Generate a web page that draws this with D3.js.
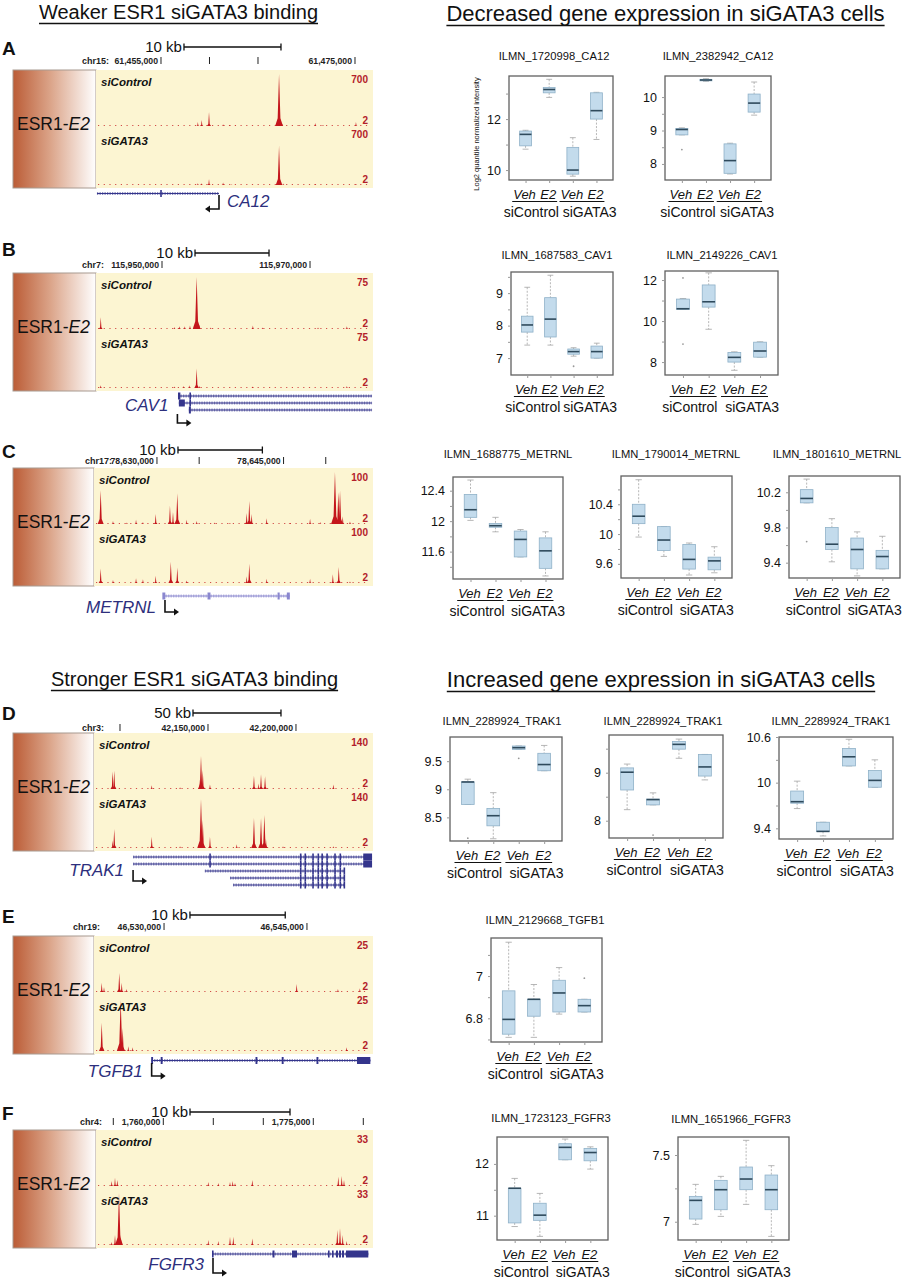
<!DOCTYPE html>
<html>
<head>
<meta charset="utf-8">
<script src="https://cdn.jsdelivr.net/npm/d3@7"></script>
<style>
  body { margin: 0; background: #fff; }
  svg { display: block; font-family: "Liberation Sans", Arial, sans-serif; }
</style>
</head>
<body>
<div id="fig"></div>
<script>
// ---------------- data ----------------
const sectionTitles = ["Weaker ESR1 siGATA3 binding", "Decreased gene expression in siGATA3 cells",
  "Stronger ESR1 siGATA3 binding", "Increased gene expression in siGATA3 cells"];

const panelLetters = ["A", "B", "C", "D", "E", "F"];
const chroms = ["chr15:", "chr7:", "chr17:", "chr3:", "chr19:", "chr4:"];
const regionStarts = [61448300, 115941080, 78622540, 42085230, 46522650, 1753270]; // bp at left edge
const regionLengths = [28.35, 37.16, 32.82, 157.4, 29.07, 27.5];                   // kb shown
const chrTicks = [
  [61455000, 61460000, 61465000, 61475000],
  [115950000, 115970000],
  [78630000, 78635000, 78645000, 78650000],
  [42100000, 42150000, 42200000],
  [46530000, 46545000],
  [1755000, 1760000, 1765000, 1770000, 1775000, 1780000]
];
const chrTickLabels = [
  [61455000, 61475000], [115950000, 115970000], [78630000, 78645000],
  [42150000, 42200000], [46530000, 46545000], [1760000, 1775000]
];
const scaleBarStart = [61457370, 115954460, 78632490, 42141480, 46532720, 1762670];
const scaleBarKb = [10, 10, 10, 50, 10, 10];
const trackMax = [700, 75, 100, 140, 25, 33];
const trackNames = ["siControl", "siGATA3"];

// peaks: [kb from left edge, signal]
const peaksA_ctrl = [[10.5,55],[10.9,80],[11.65,190],[13.1,25],[13.8,12],[14.4,10],[18.87,700],[19.2,30],[21.0,12],[22.6,40],[23.4,15],[26.8,55]];
const peaksA_gata = [[10.5,25],[10.9,25],[11.65,80],[13.1,35],[14.0,10],[18.87,530],[19.3,20],[22.6,14],[26.8,15]];
const peaksB_ctrl = [[0.64,17],[10.6,3],[11.3,4],[12.0,4],[12.7,5],[13.6,75],[14.0,6],[15.5,2],[21.2,5],[22.5,2],[30,2],[33.9,4]];
const peaksB_gata = [[0.64,4],[10.6,2],[11.8,3],[12.6,4],[13.6,28],[14.0,3],[21.2,2],[33.9,3]];
const peaksC_ctrl = [[0.79,65],[2.25,6],[3.9,3],[4.98,8],[5.8,4],[7.31,19],[9.0,35],[9.36,23],[9.87,59],[10.98,8],[12.17,6],[14.3,3],[16.1,2],[18.09,21],[18.4,44],[18.68,19],[20.46,11],[23.2,2],[25.6,10],[26.8,4],[28.55,100],[28.95,61],[29.15,64],[29.47,15],[30.33,5]];
const peaksC_gata = [[0.79,28],[2.25,6],[4.98,9],[5.8,7],[7.31,14],[9.1,41],[9.87,30],[10.98,5],[18.09,13],[18.4,37],[20.46,8],[25.6,8],[28.3,17],[29.0,31],[30.33,3]];
const peaksD_ctrl = [[10.6,47],[11.5,49],[32.8,10],[48.9,5],[60.2,25],[60.8,89],[61.8,51],[65.9,12],[90.9,36],[93.4,15],[94.9,40],[97.2,34],[136,12]];
const peaksD_gata = [[10.6,20],[11.5,51],[32.8,30],[48.9,5],[60.8,131],[61.8,76],[65.9,30],[81.1,10],[90.9,81],[94.9,81],[96.8,89],[97.7,25],[107.4,5],[136,5]];
const peaksE_ctrl = [[0.81,4.5],[1.05,2.3],[2.65,9.1],[2.91,4.5],[3.43,1.4],[21.27,3.8],[25.6,1.4],[27.9,1.8]];
const peaksE_gata = [[0.81,13.6],[2.8,24.5],[3.01,11],[3.6,2.3],[4.06,1.8],[26.5,1.8]];
const peaksF_ctrl = [[1.57,3.2],[1.9,5.3],[2.13,3.8],[11.23,2.5],[12.23,1.9],[13.4,2.5],[13.67,3.2],[13.9,1.9],[15.63,3.8],[24.23,5.9],[24.57,6.3],[24.8,3.8]];
const peaksF_gata = [[1.57,1.9],[1.9,6.3],[2.3,33],[2.47,6.3],[11.23,3.2],[12.23,2.5],[13.4,5.3],[13.73,5.3],[15.63,4.2],[24.13,9.5],[24.4,10.6],[24.67,6.3],[25.07,2.5]];
const panelPeaks = [[peaksA_ctrl, peaksA_gata], [peaksB_ctrl, peaksB_gata], [peaksC_ctrl, peaksC_gata],
  [peaksD_ctrl, peaksD_gata], [peaksE_ctrl, peaksE_gata], [peaksF_ctrl, peaksF_gata]];

// genes: transcripts {s, e, x: exons} in kb from left edge
const geneNames = ["CA12", "CAV1", "METRNL", "TRAK1", "TGFB1", "FGFR3"];
const geneA = [{ s: 0.1, e: 12.68, x: [[6.62, 6.78]] }];
const geneB = [
  { s: 11.08, e: 37.3, x: [[11.08, 11.4], [12.62, 12.82]] },
  { s: 11.2, e: 37.3, x: [[11.2, 12.0], [12.62, 12.82]] },
  { s: 12.55, e: 37.3, x: [[12.55, 12.82]] }
];
const geneC = [{ s: 8.18, e: 23.2, x: [[8.1, 8.45], [13.45, 13.8], [21.75, 22.0], [22.85, 23.2]] }];
const trak1Exons = [[117, 117.7], [119.6, 120.3], [124, 124.8], [127, 127.7], [129.2, 129.9], [132, 132.8], [136.5, 137.2], [139.5, 140.2]];
const geneD = [
  { s: 22.2, e: 158, x: [[65.5, 66.2]].concat(trak1Exons, [[153, 158]]) },
  { s: 22.2, e: 158, x: [[65.5, 66.2]].concat(trak1Exons, [[153, 158]]) },
  { s: 63, e: 142.6, x: trak1Exons.concat([[141.8, 142.6]]) },
  { s: 77.3, e: 142.6, x: trak1Exons.concat([[141.8, 142.6]]) },
  { s: 79, e: 142.6, x: trak1Exons.concat([[141.8, 142.6]]) }
];
const geneE = [{ s: 6.05, e: 29, x: [[6.0, 6.2], [7.0, 7.2], [16.95, 17.15], [19.7, 19.9], [23.35, 23.55], [27.6, 29]] }];
const geneF = [{ s: 11.63, e: 27.23, x: [[11.6, 11.75], [17.65, 17.85], [19.6, 20.1], [23.2, 23.35], [23.6, 23.75], [24.0, 24.2], [24.3, 24.5], [24.6, 24.8], [25.0, 27.23]] }];
const panelGenes = [geneA, geneB, geneC, geneD, geneE, geneF];
const tss = [[12.68, -1], [11.0, 1], [8.41, 1], [22.2, 1], [6.05, 1], [11.7, 1]]; // [kb, direction]

// expression boxplots: [lowWhisker, q1, median, q3, highWhisker, outliers] for Veh/E2 x siControl/siGATA3
const conditions = ["Veh", "E2", "Veh", "E2"];
const probeTitles = ["ILMN_1720998_CA12", "ILMN_2382942_CA12", "ILMN_1687583_CAV1", "ILMN_2149226_CAV1",
  "ILMN_1688775_METRNL", "ILMN_1790014_METRNL", "ILMN_1801610_METRNL",
  "ILMN_2289924_TRAK1", "ILMN_2289924_TRAK1", "ILMN_2289924_TRAK1",
  "ILMN_2129668_TGFB1", "ILMN_1723123_FGFR3", "ILMN_1651966_FGFR3"];
const ca12_1720998 = [[10.82,10.95,11.40,11.53,11.56,[]],[12.85,13.03,13.16,13.24,13.56,[]],[9.76,9.84,10.0,10.89,11.27,[]],[11.2,12.0,12.33,13.03,13.05,[]]];
const ca12_2382942 = [[8.87,8.87,9.03,9.06,9.08,[8.43]],[10.47,10.49,10.51,10.53,10.55,[]],[7.7,7.72,8.1,8.6,8.62,[]],[9.46,9.55,9.82,10.09,10.45,[]]];
const cav1_1687583 = [[7.4,7.8,8.02,8.29,9.18,[]],[7.4,7.65,8.2,8.86,9.55,[]],[7.06,7.12,7.2,7.28,7.32,[6.75]],[7.0,7.0,7.2,7.37,7.46,[]]];
const cav1_2149226 = [[10.57,10.57,10.6,11.07,11.1,[12.1,8.88]],[9.6,10.68,10.94,11.76,12.35,[]],[7.6,8.0,8.23,8.47,8.5,[]],[8.24,8.24,8.54,8.97,8.99,[]]];
const metrnl_1688775 = [[12.01,12.05,12.15,12.35,12.54,[]],[11.86,11.92,11.94,11.97,12.05,[]],[11.53,11.53,11.76,11.87,11.89,[]],[11.28,11.38,11.61,11.78,11.86,[]]];
const metrnl_1790014 = [[9.96,10.14,10.24,10.40,10.73,[]],[9.70,9.78,9.92,10.10,10.10,[]],[9.45,9.53,9.66,9.86,9.88,[]],[9.48,9.52,9.64,9.69,9.83,[]]];
const metrnl_1801610 = [[10.08,10.08,10.13,10.23,10.35,[9.64]],[9.41,9.55,9.61,9.80,9.90,[]],[9.25,9.33,9.55,9.68,9.75,[]],[9.33,9.33,9.47,9.54,9.70,[]]];
const trak1_a = [[8.73,8.73,9.13,9.13,9.18,[8.13]],[8.12,8.35,8.53,8.66,8.94,[]],[9.71,9.71,9.74,9.77,9.77,[9.55]],[9.33,9.33,9.44,9.64,9.78,[]]];
const trak1_b = [[8.23,8.64,9.01,9.10,9.18,[]],[8.33,8.33,8.44,8.45,8.58,[7.70]],[9.30,9.49,9.59,9.65,9.70,[]],[8.85,8.93,9.12,9.38,9.38,[]]];
const trak1_c = [[9.66,9.73,9.75,9.89,10.02,[]],[9.30,9.36,9.36,9.48,9.48,[]],[10.22,10.22,10.34,10.45,10.57,[]],[9.94,9.94,10.03,10.16,10.30,[]]];
const tgfb1_2129668 = [[6.71,6.725,6.795,6.93,7.16,[]],[6.71,6.81,6.89,6.89,6.96,[]],[6.82,6.83,6.92,6.98,7.04,[]],[6.83,6.83,6.86,6.89,6.89,[6.99]]];
const fgfr3_1723123 = [[10.79,10.86,11.53,11.53,11.72,[]],[10.60,10.91,11.01,11.24,11.43,[]],[12.08,12.08,12.32,12.39,12.48,[]],[11.90,12.06,12.22,12.30,12.33,[]]];
const fgfr3_1651966 = [[6.98,7.02,7.16,7.19,7.28,[]],[7.04,7.09,7.24,7.31,7.34,[]],[7.13,7.24,7.32,7.41,7.61,[]],[6.89,7.09,7.24,7.35,7.42,[]]];
const probeStats = [ca12_1720998, ca12_2382942, cav1_1687583, cav1_2149226, metrnl_1688775, metrnl_1790014,
  metrnl_1801610, trak1_a, trak1_b, trak1_c, tgfb1_2129668, fgfr3_1723123, fgfr3_1651966];
const plotTicks = [[10,11,12,13],[8,8.5,9,9.5,10],[7,7.5,8,8.5,9,9.5],[8,9,10,11,12],[11.4,11.6,11.8,12,12.2,12.4],
  [9.6,9.8,10,10.2,10.4,10.6],[9.4,9.6,9.8,10,10.2],[8.5,9,9.5],[8,8.5,9,9.5],[9.4,9.7,10,10.3,10.6],
  [6.7,6.8,6.9,7,7.1],[11,11.5,12],[7,7.25,7.5]];
const plotTickLabels = [[10,12],[8,9,10],[7,8,9],[8,10,12],[11.6,12,12.4],[9.6,10,10.4],[9.4,9.8,10.2],
  [8.5,9,9.5],[8,9],[9.4,10,10.6],[6.8,7],[11,12],[7,7.5]];

// ---------------- layout ----------------
const W = 902, H = 1280;
const trackTop = [70, 273, 468, 733, 936, 1130];
const trackX0 = [96, 96, 94, 94, 94, 96];
const trackX1 = 371;
const letterY = [55, 256, 458, 720, 923, 1120];
const barY = [47, 253, 450, 713, 915, 1112];
const chrY = [64, 268, 464, 731, 930, 1125];
const chrX = [82, 82, 85, 82, 73, 80];
const geneY = [193.5, 396, 596, 857, 1060.5, 1254];
const geneLabelY = [207, 411, 613, 876, 1077, 1270];
const arrowY = [[195, 209], [414, 423], [600, 612], [870, 881], [1063, 1076], [1258, 1273]];
const plotFrames = [[509,613,76,180],[665,771,76,180],[511,613,272,375],[665,778,271,375],
  [453,563,477,579],[621,732,476,578],[789,900,476,578],
  [450,562,737,841],[609,723,735,838],[779,893,737,839],
  [491,602,938,1042],[497,608,1137,1240],[678,789,1137,1240]];
const plotYDomains = [[9.61,13.69],[7.52,10.63],[6.48,9.65],[7.37,12.44],[11.24,12.58],[9.41,10.78],[9.226,10.385],
  [8.08,9.93],[7.64,9.785],[9.26,10.6],[6.688,7.18],[10.53,12.52],[6.863,7.635]];
const plotTitleX = [554,718,557,722,508,676,837,502,663,831,545,551,731];
const plotTitleY = [60,60,259,259,458,458,458,725,725,725,924,1122,1123];
const headerPos = [[178.5, 19], [665.5, 21], [194.5, 686], [661, 687]];
const headerSize = [20, 22, 20, 22];

const RED = "#c4161c", NAVY = "#2d2f7d";

const svg = d3.select("#fig").append("svg").attr("width", W).attr("height", H);
svg.append("rect").attr("width", W).attr("height", H).attr("fill", "#fff");

const grad = svg.append("defs").append("linearGradient").attr("id", "esrGrad")
  .attr("x1", "0%").attr("x2", "100%").attr("y1", "0%").attr("y2", "0%");
grad.append("stop").attr("offset", "0%").attr("stop-color", "#bb5c36");
grad.append("stop").attr("offset", "45%").attr("stop-color", "#dba489");
grad.append("stop").attr("offset", "100%").attr("stop-color", "#ffffff");

// section headers
sectionTitles.forEach((t, i) => {
  const txt = svg.append("text").attr("x", headerPos[i][0]).attr("y", headerPos[i][1])
    .attr("text-anchor", "middle").attr("font-size", headerSize[i]).attr("fill", "#111").text(t);
  const w = txt.node().getComputedTextLength();
  svg.append("line").attr("x1", headerPos[i][0] - w / 2).attr("x2", headerPos[i][0] + w / 2)
    .attr("y1", headerPos[i][1] + 4.5).attr("y2", headerPos[i][1] + 4.5)
    .attr("stroke", "#111").attr("stroke-width", 1.3);
});

// ---------------- genome track panels ----------------
const peakLine = d3.line().x(d => d[0]).y(d => d[1]);

function drawTrackPanel(i) {
  const g = svg.append("g");
  const top = trackTop[i], x0 = trackX0[i];
  const x = d3.scaleLinear().domain([0, regionLengths[i]]).range([x0, trackX1]);
  const bpX = bp => x((bp - regionStarts[i]) / 1000);

  g.append("text").attr("x", 2).attr("y", letterY[i]).attr("font-size", 19).attr("font-weight", "bold")
    .attr("fill", "#111").text(panelLetters[i]);

  // scale bar
  const sb0 = bpX(scaleBarStart[i]), sb1 = bpX(scaleBarStart[i] + scaleBarKb[i] * 1000);
  g.append("path").attr("d", `M${sb0},${barY[i] - 3.5}V${barY[i] + 3.5}M${sb0},${barY[i]}H${sb1}M${sb1},${barY[i] - 3.5}V${barY[i] + 3.5}`)
    .attr("stroke", "#111").attr("stroke-width", 1.3).attr("fill", "none");
  g.append("text").attr("x", sb0 - 2).attr("y", barY[i] + 5).attr("text-anchor", "end")
    .attr("font-size", 15).attr("fill", "#111").text(scaleBarKb[i] + " kb");

  // chromosome ruler
  g.append("text").attr("x", chrX[i]).attr("y", chrY[i]).attr("font-size", 9).attr("font-weight", "bold")
    .attr("fill", "#222").text(chroms[i]);
  chrTicks[i].forEach(t => {
    const tx = bpX(t);
    g.append("line").attr("x1", tx).attr("x2", tx).attr("y1", chrY[i] - 7).attr("y2", chrY[i])
      .attr("stroke", "#222").attr("stroke-width", 1);
    if (chrTickLabels[i].includes(t)) {
      g.append("text").attr("x", tx - 3).attr("y", chrY[i]).attr("text-anchor", "end")
        .attr("font-size", 8.7).attr("font-weight", "bold").attr("fill", "#222").text(d3.format(",")(t));
    }
  });

  // ESR1-E2 label box
  g.append("rect").attr("x", 13).attr("y", top).attr("width", x0 - 13).attr("height", 118)
    .attr("fill", "url(#esrGrad)").attr("stroke", "#a89a90").attr("stroke-width", 1);
  const lab = g.append("text").attr("x", 17).attr("y", top + 60).attr("font-size", 17.5).attr("fill", "#111");
  lab.append("tspan").text("ESR1-");
  lab.append("tspan").attr("font-style", "italic").text("E2");

  // yellow signal area
  g.append("rect").attr("x", x0).attr("y", top).attr("width", trackX1 + 2 - x0).attr("height", 118)
    .attr("fill", "#fcf5d2");

  [0, 1].forEach(k => {
    const base = top + (k === 0 ? 56 : 115);
    const y = d3.scaleLinear().domain([0, trackMax[i]]).range([base, base - 52]);
    g.append("line").attr("x1", x0 + 2).attr("x2", trackX1 - 2).attr("y1", base - 0.5).attr("y2", base - 0.5)
      .attr("stroke", RED).attr("stroke-width", 1).attr("stroke-dasharray", "1.2,4.5").attr("opacity", 0.75);
    panelPeaks[i][k].forEach(p => {
      const px = x(p[0]), py = y(p[1]), hgt = base - py;
      const hw = 1.3 + 2.6 * Math.min(1, p[1] / trackMax[i]);
      g.append("path")
        .attr("d", peakLine([[px - hw, base], [px - hw * 0.35, base - hgt * 0.15], [px, py], [px + hw * 0.35, base - hgt * 0.15], [px + hw, base]]) + "Z")
        .attr("fill", RED);
    });
    g.append("text").attr("x", x0 + 5).attr("y", top + (k === 0 ? 16 : 75))
      .attr("font-size", 11.5).attr("font-weight", "bold").attr("font-style", "italic").attr("fill", "#111")
      .text(trackNames[k]);
    g.append("text").attr("x", trackX1 - 3).attr("y", top + (k === 0 ? 13 : 68)).attr("text-anchor", "end")
      .attr("font-size", 10).attr("font-weight", "bold").attr("fill", "#b3202a").text(trackMax[i]);
    g.append("text").attr("x", trackX1 - 3).attr("y", base - 2).attr("text-anchor", "end")
      .attr("font-size", 10).attr("font-weight", "bold").attr("fill", "#b3202a").text("2");
  });

  // gene model
  const gcol = i === 2 ? "#8a87cf" : "#34358c";
  panelGenes[i].forEach((t, r) => {
    const gy = geneY[i] + r * 7;
    g.append("line").attr("x1", x(t.s)).attr("x2", x(t.e)).attr("y1", gy).attr("y2", gy)
      .attr("stroke", gcol).attr("stroke-width", 3).attr("stroke-dasharray", "1.3,1.2").attr("opacity", 0.55);
    g.append("line").attr("x1", x(t.s)).attr("x2", x(t.e)).attr("y1", gy).attr("y2", gy)
      .attr("stroke", gcol).attr("stroke-width", 1);
    t.x.forEach(ex => {
      g.append("rect").attr("x", x(ex[0])).attr("y", gy - 3.5)
        .attr("width", Math.max(1.6, x(ex[1]) - x(ex[0]))).attr("height", 7).attr("fill", gcol);
    });
  });

  // TSS arrow
  const tx = x(tss[i][0]), dir = tss[i][1], [ay0, ay1] = arrowY[i];
  g.append("path").attr("d", `M${tx},${ay0}V${ay1}H${tx + dir * 11}`)
    .attr("fill", "none").attr("stroke", "#111").attr("stroke-width", 1.6);
  const tip = tx + dir * 14;
  g.append("path").attr("d", `M${tip},${ay1}L${tip - dir * 5},${ay1 - 3.5}L${tip - dir * 5},${ay1 + 3.5}Z`).attr("fill", "#111");

  g.append("text").attr("x", dir < 0 ? tx + 8 : tx - 9).attr("y", geneLabelY[i])
    .attr("text-anchor", dir < 0 ? "start" : "end")
    .attr("font-size", 17).attr("font-style", "italic").attr("fill", NAVY).text(geneNames[i]);
}

d3.range(6).forEach(drawTrackPanel);

// ---------------- expression boxplots ----------------
function drawBoxplot(j) {
  const [fx0, fx1, fy0, fy1] = plotFrames[j];
  const stats = probeStats[j];
  const g = svg.append("g");
  const x = d3.scaleLinear().domain([0.3, 4.7]).range([fx0, fx1]);
  const y = d3.scaleLinear().domain(plotYDomains[j]).range([fy1, fy0]);
  const bw = (x(2) - x(1)) * 0.5;

  stats.forEach((s, k) => {
    const cx = x(k + 1);
    const [lo, q1, med, q3, hi, out] = s;
    g.append("line").attr("x1", cx).attr("x2", cx).attr("y1", y(hi)).attr("y2", y(q3))
      .attr("stroke", "#a5a5a5").attr("stroke-width", 0.8).attr("stroke-dasharray", "2,1.5");
    g.append("line").attr("x1", cx).attr("x2", cx).attr("y1", y(q1)).attr("y2", y(lo))
      .attr("stroke", "#a5a5a5").attr("stroke-width", 0.8).attr("stroke-dasharray", "2,1.5");
    [hi, lo].forEach(v => g.append("line").attr("x1", cx - bw / 4).attr("x2", cx + bw / 4)
      .attr("y1", y(v)).attr("y2", y(v)).attr("stroke", "#a5a5a5").attr("stroke-width", 0.8));
    g.append("rect").attr("x", cx - bw / 2).attr("y", y(q3)).attr("width", bw)
      .attr("height", Math.max(1.5, y(q1) - y(q3)))
      .attr("fill", "#c3dbec").attr("stroke", "#8fb1c8").attr("stroke-width", 0.8);
    g.append("line").attr("x1", cx - bw / 2).attr("x2", cx + bw / 2).attr("y1", y(med)).attr("y2", y(med))
      .attr("stroke", "#2f4a5c").attr("stroke-width", 1.6);
    out.forEach(v => g.append("circle").attr("cx", cx).attr("cy", y(v)).attr("r", 0.9).attr("fill", "#999"));
  });

  g.append("rect").attr("x", fx0).attr("y", fy0).attr("width", fx1 - fx0).attr("height", fy1 - fy0)
    .attr("fill", "none").attr("stroke", "#606060").attr("stroke-width", 1.3);

  const yAxis = g.append("g").attr("transform", `translate(${fx0},0)`)
    .call(d3.axisLeft(y).tickValues(plotTicks[j]).tickSize(3).tickPadding(5)
      .tickFormat(d => plotTickLabels[j].includes(d) ? String(d) : ""));
  yAxis.select(".domain").remove();
  yAxis.selectAll("line").attr("stroke", "#999");
  yAxis.selectAll("text").attr("font-size", 12.5).attr("fill", "#111")
    .attr("font-family", '"Liberation Sans", Arial, sans-serif');

  const xAxis = g.append("g").attr("transform", `translate(0,${fy1})`)
    .call(d3.axisBottom(x).tickValues([1, 2, 3, 4]).tickSize(3).tickFormat(""));
  xAxis.select(".domain").remove();
  xAxis.selectAll("line").attr("stroke", "#999");

  g.append("text").attr("x", plotTitleX[j]).attr("y", plotTitleY[j]).attr("text-anchor", "middle")
    .attr("font-size", 11.2).attr("fill", "#111").text(probeTitles[j]);

  // condition labels
  [0, 1].forEach(grp => {
    const a = x(grp * 2 + 1), b = x(grp * 2 + 2);
    const t1 = g.append("text").attr("x", a - 1).attr("y", fy1 + 19).attr("text-anchor", "middle")
      .attr("font-size", 13).attr("font-style", "italic").attr("fill", "#111").text(conditions[grp * 2]);
    const t2 = g.append("text").attr("x", b - 1).attr("y", fy1 + 19).attr("text-anchor", "middle")
      .attr("font-size", 13).attr("font-style", "italic").attr("fill", "#111").text(conditions[grp * 2 + 1]);
    const w1 = t1.node().getComputedTextLength(), w2 = t2.node().getComputedTextLength();
    g.append("line").attr("x1", a - 1 - w1 / 2 - 1).attr("x2", b - 1 + w2 / 2 + 1)
      .attr("y1", fy1 + 21.5).attr("y2", fy1 + 21.5).attr("stroke", "#111").attr("stroke-width", 1.1);
    g.append("text").attr("x", (a + b) / 2 + (grp === 0 ? -6 : 5)).attr("y", fy1 + 37).attr("text-anchor", "middle")
      .attr("font-size", 14).attr("fill", "#111").text(trackNames[grp]);
  });

  if (j === 0) {
    g.append("text").attr("transform", `translate(${fx0 - 30},${(fy0 + fy1) / 2 + 6}) rotate(-90)`)
      .attr("text-anchor", "middle").attr("font-size", 7.5).attr("fill", "#111")
      .text("Log2 quantile normalized intensity");
  }
}

d3.range(probeStats.length).forEach(drawBoxplot);
</script>
</body>
</html>
